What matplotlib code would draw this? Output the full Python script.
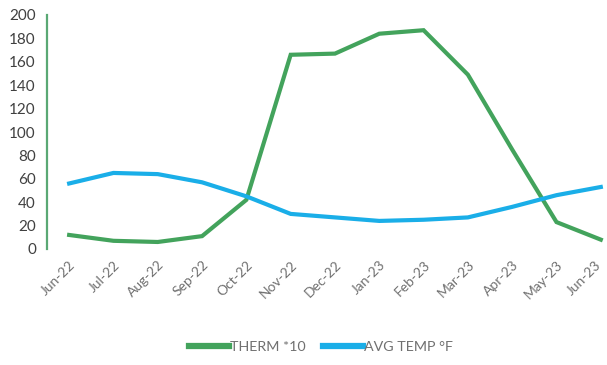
import matplotlib.pyplot as plt
from matplotlib.transforms import ScaledTranslation

months = ['Jun-22', 'Jul-22', 'Aug-22', 'Sep-22', 'Oct-22', 'Nov-22', 'Dec-22',
          'Jan-23', 'Feb-23', 'Mar-23', 'Apr-23', 'May-23', 'Jun-23']
therm_x10 = [12, 7, 6, 11, 42, 166, 167, 184, 187, 149, 85, 23, 8]
avg_temp_f = [56, 65, 64, 57, 45, 30, 27, 24, 25, 27, 36, 46, 53]

green = '#43a35c'
blue = '#1aaee8'
plt.rcParams['font.family'] = ['Lato', 'DejaVu Sans']

fig = plt.figure(figsize=(6.07, 3.65), dpi=100)
ax = fig.add_axes([47 / 607, 1 - 249 / 365, 560 / 607, 234 / 365])

x = range(len(months))
ax.plot(x, therm_x10, color=green, linewidth=3, solid_joinstyle='miter', label='THERM *10')
ax.plot(x, avg_temp_f, color=blue, linewidth=3, solid_joinstyle='miter', label='AVG TEMP °F')

ax.set_xlim(-0.5, 12.14)
ax.set_ylim(0, 200)
ax.set_yticks(range(0, 201, 20))
ax.set_xticks(list(x))
ax.set_xticklabels(months, rotation=45, ha='right', va='top', rotation_mode='anchor',
                   color='#707070', fontsize=10)
ax.tick_params(axis='y', labelsize=11, labelcolor='#404040', length=0, pad=8)
ax.tick_params(axis='x', length=0, pad=7)

# keep the last month label inside the figure edge
last = ax.get_xticklabels()[-1]
last.set_transform(last.get_transform() + ScaledTranslation(-0.06, 0, fig.dpi_scale_trans))

for side in ['top', 'right', 'bottom']:
    ax.spines[side].set_visible(False)
ax.spines['left'].set_color('#5aa874')
ax.spines['left'].set_linewidth(1.6)

fig.legend(loc='center', bbox_to_anchor=(321 / 607, 1 - 347 / 365), ncol=2, frameon=False,
           handlelength=2.8, handletextpad=0.05, columnspacing=1.2,
           fontsize=10.3, labelcolor='#707070')
for line in fig.legends[0].get_lines():
    line.set_linewidth(4.5)

fig.savefig('out.png', dpi=100)
